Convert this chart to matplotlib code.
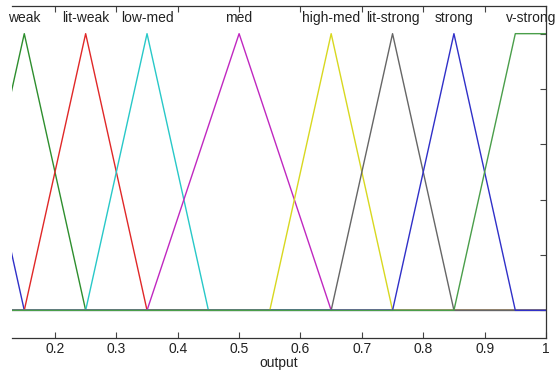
import numpy as np
import matplotlib
matplotlib.use('Agg')
import matplotlib.pyplot as plt

plt.rcParams['font.family'] = ['Liberation Sans', 'DejaVu Sans']

# membership functions of the "output" variable: name, breakpoints, colour
names = ['v-weak', 'weak', 'lit-weak', 'low-med', 'med', 'high-med',
         'lit-strong', 'strong', 'v-strong']
params = [
    [0.0, 0.05, 0.05, 0.15],
    [0.05, 0.15, 0.15, 0.25],
    [0.15, 0.25, 0.25, 0.35],
    [0.25, 0.35, 0.35, 0.45],
    [0.35, 0.5, 0.5, 0.65],
    [0.55, 0.65, 0.65, 0.75],
    [0.65, 0.75, 0.75, 0.85],
    [0.75, 0.85, 0.85, 0.95],
    [0.85, 0.95, 1.0, 1.0],
]
colors = ['#3030c8', '#2e8e2e', '#e02828', '#28c8c8', '#c028c0', '#d8d820',
          '#666666', '#3030c8', '#4a9e4a']
xticks = [0.2, 0.3, 0.4, 0.5, 0.6, 0.7, 0.8, 0.9, 1]

x = np.linspace(0, 1, 401)

fig = plt.figure(figsize=(5.56, 3.75), dpi=100)
ax = fig.add_axes([12 / 556, 37 / 375, 534 / 556, 332 / 375])

for name, p, c in zip(names, params, colors):
    a, b, cc, d = p
    right = 1.0 if d >= 1 else 0.0
    y = np.interp(x, [a, b, cc, d], [0, 1, 1, right], left=0, right=right)
    ax.plot(x, y, color=c, lw=1.0)
    xc = (b + cc) / 2
    if xc > 0.13:
        ax.text(xc, 1.03, name, ha='center', va='bottom', fontsize=10,
                color='#222222', clip_on=False)

ax.set_xlim(0.13, 1)
ax.set_ylim(-0.1, 1.1)
ax.set_xticks(xticks)
ax.set_xticklabels([str(t) for t in xticks])
ax.set_yticks([0, 0.2, 0.4, 0.6, 0.8, 1])
ax.tick_params(axis='both', direction='in', length=4, color='#444444',
               labelsize=10, labelcolor='#222222')
ax.tick_params(axis='x', top=True, bottom=True, pad=3)
ax.tick_params(axis='y', left=False, right=True, labelleft=False)
ax.spines['left'].set_visible(False)
for s in ['top', 'right', 'bottom']:
    ax.spines[s].set_color('#333333')
    ax.spines[s].set_linewidth(0.9)
ax.set_xlabel('output', fontsize=10, color='#222222', labelpad=0)

fig.savefig('out.png', dpi=100)
